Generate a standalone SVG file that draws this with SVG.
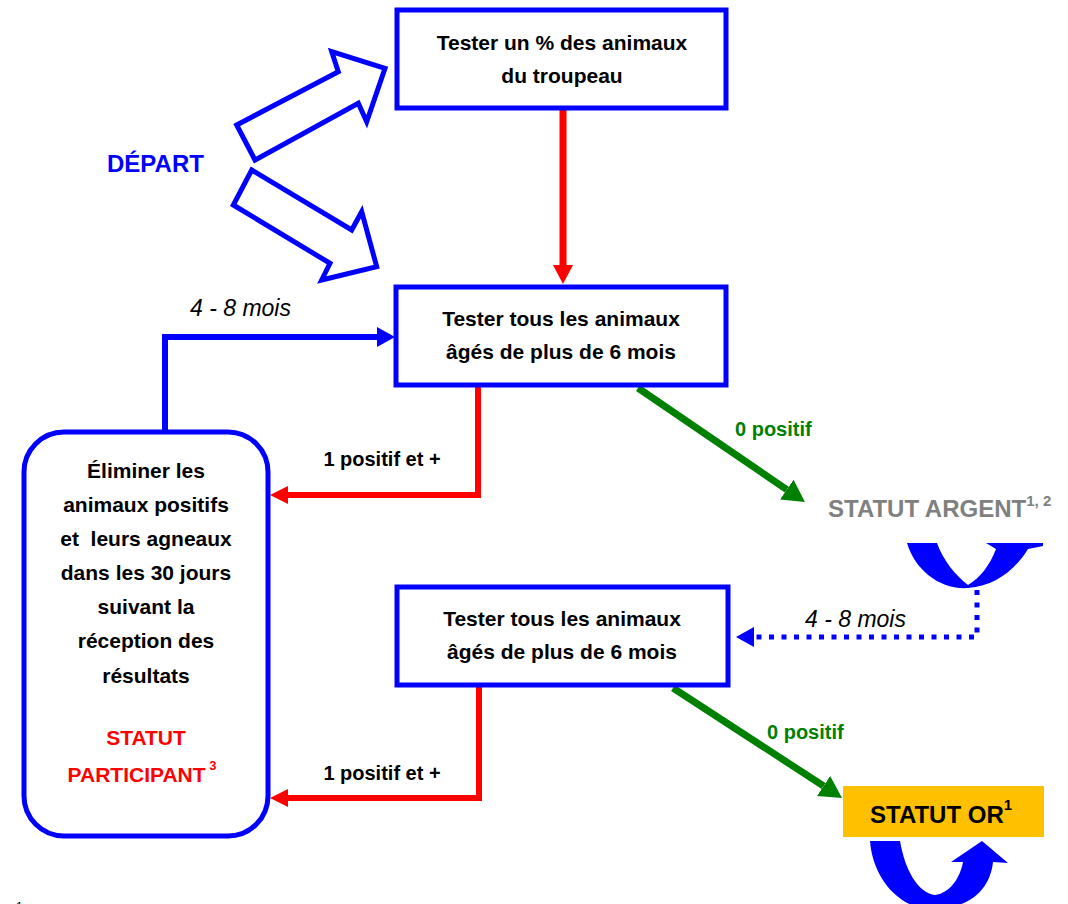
<svg xmlns="http://www.w3.org/2000/svg" width="1068" height="904" viewBox="0 0 1068 904">
<style>
  .box { fill: #fff; stroke: #0000FF; stroke-width: 5; }
  .t { font-family: "Liberation Sans", Arial, sans-serif; font-weight: bold; font-size: 21px; fill: #000; text-anchor: middle; }
  .lbl { font-family: "Liberation Sans", Arial, sans-serif; font-weight: bold; font-size: 20px; }
  .it { font-family: "Liberation Sans", Arial, sans-serif; font-style: italic; font-size: 23px; fill: #000; }
  .red { fill: none; stroke: #FF0000; stroke-width: 6; }
  .blue { fill: none; stroke: #0000FF; stroke-width: 6; }
  .green { fill: none; stroke: #008000; stroke-width: 7; }
  .hollow { fill: #fff; stroke: #0000FF; stroke-width: 5; stroke-linejoin: miter; }
</style>
<defs>
  <marker id="hRed" viewBox="0 0 18 18" refX="0" refY="9" markerWidth="18" markerHeight="18" markerUnits="userSpaceOnUse" orient="auto">
    <path d="M0,0 L18,9 L0,18 z" fill="#FF0000"/>
  </marker>
  <marker id="hRedBig" viewBox="0 0 19 20" refX="0" refY="10" markerWidth="19" markerHeight="20" markerUnits="userSpaceOnUse" orient="auto">
    <path d="M0,0 L19,10 L0,20 z" fill="#FF0000"/>
  </marker>
  <marker id="hBlue" viewBox="0 0 18 20" refX="0" refY="10" markerWidth="18" markerHeight="20" markerUnits="userSpaceOnUse" orient="auto">
    <path d="M0,0 L18,10 L0,20 z" fill="#0000FF"/>
  </marker>
  <marker id="hGreen" viewBox="0 0 22 24" refX="0" refY="12" markerWidth="22" markerHeight="24" markerUnits="userSpaceOnUse" orient="auto">
    <path d="M0,0 L22,12 L0,24 z" fill="#008000"/>
  </marker>
</defs>
<rect width="1068" height="904" fill="#fff"/>

<g id="connectors">
  <path class="red" style="stroke-width:7" d="M563,110 V265" marker-end="url(#hRedBig)"/>
  <path class="red" d="M478,387 V495 H288" marker-end="url(#hRed)"/>
  <path class="red" d="M479,687 V798 H288" marker-end="url(#hRed)"/>
  <path class="blue" d="M165,432 V337 H377" marker-end="url(#hBlue)"/>
  <path class="blue" style="stroke-width:5;stroke-dasharray:5 7.5" d="M977,590 V637 H754" marker-end="url(#hBlue)"/>
  <path class="green" d="M638,388 L786.8,489.6" marker-end="url(#hGreen)"/>
  <path class="green" d="M673,688 L823.6,786" marker-end="url(#hGreen)"/>
  <text class="it" x="190" y="316">4 - 8 mois</text>
  <text class="it" x="805" y="627">4 - 8 mois</text>
  <text class="lbl" x="382" y="466" text-anchor="middle" fill="#000">1 positif et +</text>
  <text class="lbl" x="382" y="780" text-anchor="middle" fill="#000">1 positif et +</text>
  <text class="lbl" x="735" y="436" fill="#008000">0 positif</text>
  <text class="lbl" x="767" y="739" fill="#008000">0 positif</text>
</g>

<g id="depart">
  <polygon class="hollow" points="236.7,125 338.3,71.7 331.7,51.7 385,68.3 366.7,121.7 358.3,103.3 255,160"/>
  <polygon class="hollow" points="251.7,170 351.7,230 361.7,211.7 376.7,266.7 321.7,280 330,263.3 233.3,205"/>
  <text class="lbl" x="107" y="172" style="font-size:24px" fill="#0000FF">DÉPART</text>
</g>

<g id="node-test-pct">
  <rect class="box" x="397" y="10" width="329" height="98"/>
  <text class="t" x="562" y="50">Tester un % des animaux</text>
  <text class="t" x="562" y="83">du troupeau</text>
</g>

<g id="node-test-all-1">
  <rect class="box" x="396" y="287" width="330" height="98"/>
  <text class="t" x="561" y="326">Tester tous les animaux</text>
  <text class="t" x="561" y="359">âgés de plus de 6 mois</text>
</g>

<g id="node-test-all-2">
  <rect class="box" x="397" y="587" width="331" height="98"/>
  <text class="t" x="562" y="626">Tester tous les animaux</text>
  <text class="t" x="562" y="659">âgés de plus de 6 mois</text>
</g>

<g id="node-eliminer">
  <rect class="box" x="24" y="432" width="244" height="404" rx="40" ry="40"/>
  <text class="t" x="146" y="478">Éliminer les</text>
  <text class="t" x="146" y="512">animaux positifs</text>
  <text class="t" x="146" y="546" xml:space="preserve">et  leurs agneaux</text>
  <text class="t" x="146" y="580">dans les 30 jours</text>
  <text class="t" x="146" y="614">suivant la</text>
  <text class="t" x="146" y="648">réception des</text>
  <text class="t" x="146" y="683">résultats</text>
  <text class="t" x="146" y="745" style="fill:#FF0000">STATUT</text>
  <text class="t" x="142" y="782" style="fill:#FF0000">PARTICIPANT<tspan style="font-size:13px" dy="-12"> 3</tspan></text>
</g>

<g id="node-argent">
  <text class="lbl" x="828" y="517" style="font-size:24px" fill="#808080">STATUT ARGENT<tspan dy="-11" style="font-size:15px">1, 2</tspan></text>
  <path fill="#0000FF" d="M907,543 C915,570 940,590 968,588 C995,586 1015,570 1028,549 L1043,546 L1043,543 L986,543 L996,549 C990,565 980,578 968,585 C955,575 943,560 937,543 Z"/>
</g>

<g id="node-or">
  <rect x="843" y="786" width="201" height="51" fill="#FFC000"/>
  <text class="lbl" x="870" y="823" style="font-size:24px" fill="#000">STATUT OR<tspan dy="-13" style="font-size:15px">1</tspan></text>
  <path fill="#0000FF" d="M870,841 L900,841 C905,870 918,893 935,895 C950,893 960,878 963,862 L951,862 L982,841 L1008,863 L993,862 C990,890 970,905 945,908 L920,908 C890,900 872,870 870,841 Z"/>
</g>

<text x="16" y="911" style="font-family:'Liberation Sans',Arial,sans-serif;font-size:12px" fill="#000">1</text>
</svg>
